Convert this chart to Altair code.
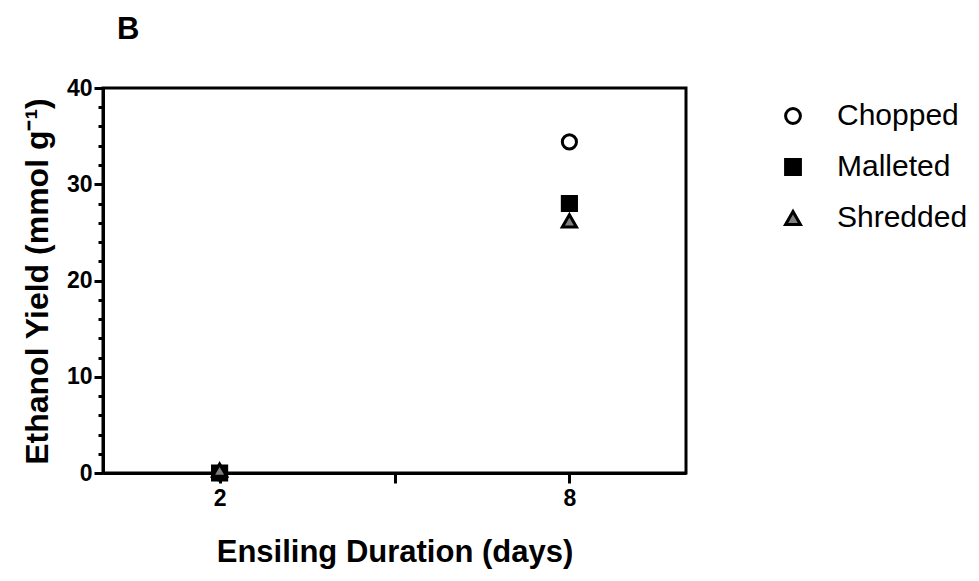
import altair as alt
import pandas as pd

# Ethanol yield by ensiling duration and processing method
methods = ["Chopped", "Malleted", "Shredded"]
days = [2, 8]
chopped = [0.0, 34.4]
malleted = [0.0, 28.0]
shredded = [0.3, 26.2]

rows = []
for m, vals in zip(methods, [chopped, malleted, shredded]):
    for d, v in zip(days, vals):
        rows.append({"method": m, "days": d, "yield": v})
df = pd.DataFrame(rows)

font = "Liberation Sans"

x_axis = alt.Axis(
    values=[2, 5, 8],
    labelExpr="datum.value == 5 ? '' : datum.label",
    title="Ensiling Duration (days)",
    grid=False,
    tickSize=10,
    tickWidth=3,
    tickColor="black",
    domainColor="black",
    domainWidth=3,
    labelFont=font,
    labelFontSize=23,
    labelFontWeight="bold",
    labelColor="black",
    labelPadding=4,
    titleFont=font,
    titleFontSize=31,
    titleFontWeight="bold",
    titleColor="black",
    titleY=79,
    titleBaseline="middle",
)

y_axis = alt.Axis(
    values=list(range(0, 41, 2)),
    labelExpr="datum.value % 10 == 0 ? datum.label : ''",
    tickSize={"condition": {"test": "datum.value % 10 == 0", "value": 9}, "value": 5},
    tickWidth=3,
    tickColor="black",
    domainColor="black",
    domainWidth=3,
    grid=False,
    title="Ethanol Yield (mmol g⁻¹)",
    labelFont=font,
    labelFontSize=23,
    labelFontWeight="bold",
    labelColor="black",
    labelPadding=2,
    titleFont=font,
    titleFontSize=32,
    titleFontWeight="bold",
    titleColor="black",
    titleAngle=270,
    titleX=-66,
    titleY=193,
    titleBaseline="middle",
    titleAlign="center",
)

legend = alt.Legend(
    title=None,
    orient="none",
    legendX=675,
    legendY=13,
    labelFont=font,
    labelFontSize=30,
    labelColor="black",
    symbolSize=220,
    symbolStrokeWidth=3,
    rowPadding=21,
    labelOffset=29,
)

points = alt.Chart(df).mark_point(filled=True, strokeWidth=3, opacity=1).encode(
    x=alt.X("days:Q", scale=alt.Scale(domain=[0, 10], nice=False), axis=x_axis),
    y=alt.Y("yield:Q", scale=alt.Scale(domain=[0, 40], nice=False), axis=y_axis),
    shape=alt.Shape(
        "method:N",
        scale=alt.Scale(domain=methods, range=["circle", "square", "triangle-up"]),
        legend=legend,
    ),
    fill=alt.Fill(
        "method:N",
        scale=alt.Scale(domain=methods, range=["white", "black", "#808080"]),
        legend=legend,
    ),
    stroke=alt.Stroke(
        "method:N",
        scale=alt.Scale(domain=methods, range=["black", "black", "black"]),
        legend=legend,
    ),
    size=alt.value(200),
)

chart = points.properties(
    width=583,
    height=385,
    autosize=alt.AutoSizeParams(type="none"),
    padding={"left": 103, "top": 88, "right": 293, "bottom": 108},
    title=alt.TitleParams(
        "B", anchor="start", frame="group", dx=14, offset=31, font=font,
        fontSize=31, fontWeight="bold", color="black",
    ),
).configure(background="white").configure_view(stroke="black", strokeWidth=3)

chart.save("out.html", embed_options={"renderer": "svg", "actions": False})
